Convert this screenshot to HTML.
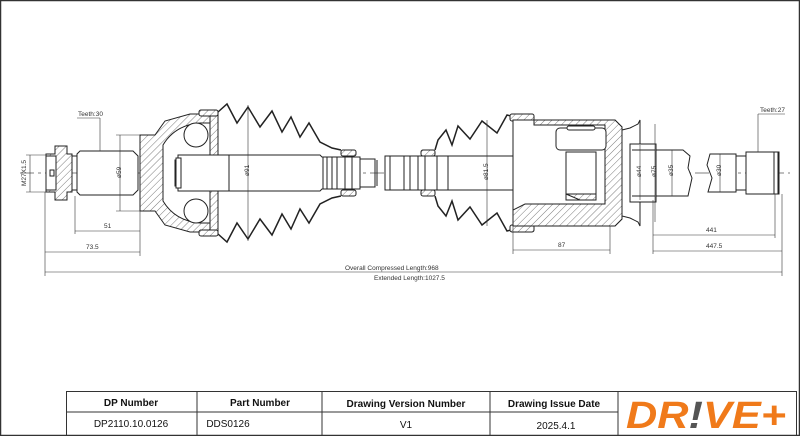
<!DOCTYPE html>
<html><head><meta charset="utf-8"><style>
html,body{margin:0;padding:0;background:#fff;}
svg{display:block;}
text{font-family:"Liberation Sans",sans-serif;}
</style></head><body>
<svg width="800" height="436" viewBox="0 0 800 436" xmlns="http://www.w3.org/2000/svg">
<defs>
<pattern id="h" width="5" height="5" patternUnits="userSpaceOnUse" patternTransform="rotate(45)">
<rect width="5" height="5" fill="#fff"/><line x1="0" y1="0" x2="0" y2="5" stroke="#444" stroke-width="0.7"/>
</pattern>
</defs>
<rect x="0.5" y="0.5" width="799" height="435" fill="none" stroke="#333" stroke-width="1.5"/>
<g stroke="#222" stroke-width="1" fill="none">
<line x1="20" y1="173" x2="790" y2="173" stroke="#555" stroke-width="0.7" stroke-dasharray="14,4,3,4"/>
<path d="M46 154 L55 154 L55 146 L67 146 L67 154 L72 154 L72 192 L67 192 L67 200 L55 200 L55 192 L46 192 Z" fill="url(#h)"/>
<rect x="46" y="156" width="10" height="34" fill="#fff"/>
<rect x="50" y="170" width="4" height="6"/>
<rect x="72" y="156" width="5" height="34"/>
<path d="M77 154 L80 151 L133 151 L138 156 L138 190 L133 195 L80 195 L77 192 Z" fill="#fff"/>
<path d="M140 135 L155 135 L165 121 L190 114 L218 114 L218 232 L190 232 L165 225 L155 211 L140 211 Z" fill="url(#h)"/>
<path d="M163 145 Q175 125 200 123 L210 123 L210 223 L200 223 Q175 221 163 201 Z" fill="#fff"/>
<path d="M175 160 L212 160 L212 186 L175 186 Z" fill="url(#h)"/>
<circle cx="196" cy="135" r="12" fill="#fff"/>
<circle cx="196" cy="211" r="12" fill="#fff"/>
<rect x="210" y="114" width="8" height="118" fill="url(#h)"/>
<rect x="199" y="110" width="19" height="6" rx="2" fill="url(#h)"/>
<rect x="199" y="230" width="19" height="6" rx="2" fill="url(#h)"/>
<path d="M178 155 L320 155 L322 157 L360 157 L360 189 L322 189 L320 191 L178 191 Z" fill="#fff"/>
<rect x="176" y="158" width="5" height="30" fill="#fff"/>
<line x1="229" y1="155" x2="229" y2="191"/>
<line x1="323" y1="157" x2="323" y2="189"/><line x1="327" y1="157" x2="327" y2="189"/>
<line x1="332" y1="157" x2="332" y2="189"/><line x1="337" y1="157" x2="337" y2="189"/>
<line x1="345" y1="157" x2="345" y2="189"/><line x1="352" y1="157" x2="352" y2="189"/>
<rect x="341" y="150" width="15" height="6" rx="2" fill="url(#h)"/>
<rect x="341" y="190" width="15" height="6" rx="2" fill="url(#h)"/>
<path d="M360 159 L375 159 L375 187 L360 187 Z"/>
<line x1="377" y1="160" x2="377" y2="186"/>
<path d="M385 156 L425 156 L425 190 L385 190 Z" fill="#fff"/>
<line x1="390" y1="156" x2="390" y2="190"/><line x1="404" y1="156" x2="404" y2="190"/>
<line x1="410" y1="156" x2="410" y2="190"/><line x1="418" y1="156" x2="418" y2="190"/>
<rect x="421" y="150" width="14" height="6" rx="2" fill="url(#h)"/>
<rect x="421" y="190" width="14" height="6" rx="2" fill="url(#h)"/>
<path d="M425 156 L560 156 L560 190 L425 190 Z" fill="#fff"/>
<line x1="437" y1="156" x2="437" y2="190"/><line x1="448" y1="156" x2="448" y2="190"/>
<path d="M218 112 L227 104 L237 123 L248 107 L260 127 L272 111 L282 132 L291 117 L300 137 L309 123 L320 142 L332 148 L341 150" stroke-width="1.5"/>
<path d="M218 234 L227 242 L237 223 L248 239 L260 219 L272 235 L282 214 L291 229 L300 209 L309 223 L320 204 L332 198 L341 196" stroke-width="1.5"/>
<path d="M435 150 L438 140 L446 130 L452 145 L458 126 L470 139 L482 121 L497 133 L507 115 L515 117" stroke-width="1.5"/>
<path d="M435 196 L438 206 L446 216 L452 201 L458 220 L470 207 L482 225 L497 213 L507 231 L515 229" stroke-width="1.5"/>
<rect x="510" y="114" width="24" height="7" rx="2" fill="url(#h)"/>
<rect x="510" y="225" width="24" height="7" rx="2" fill="url(#h)"/>
<path d="M513 120 L615 120 L622 127 L622 219 L615 226 L513 226 Z" fill="#fff"/>
<path d="M534 120 L615 120 L622 127 L622 219 L615 226 L513 226 L513 210 L525 204 L605 204 L605 125 L534 125 Z" fill="url(#h)"/>
<line x1="513" y1="120" x2="513" y2="226"/>
<rect x="556" y="128" width="50" height="22" rx="4" fill="#fff"/>
<rect x="567" y="126" width="28" height="4" rx="2" fill="#fff"/>
<rect x="566" y="152" width="30" height="48" fill="#fff"/>
<path d="M566 194 L596 194 L596 200 L580 200 Z" fill="url(#h)"/>
<path d="M622 130 L630 128 L638 124 L640 120 L640 226 L638 222 L630 218 L622 216 Z" fill="#fff"/>
<rect x="630" y="144" width="26" height="58" fill="#fff"/>
<line x1="632" y1="150" x2="655" y2="150"/><line x1="632" y1="196" x2="655" y2="196"/>
<path d="M656 150 L683 150 L690 156 L688 168 L692 178 L688 196 L656 196 Z" fill="#fff"/>
<path d="M710 154 L707 165 L712 178 L708 192 L736 192 L736 154 Z" fill="#fff"/>
<rect x="736" y="156" width="10" height="34"/>
<rect x="746" y="152" width="32" height="42" fill="#fff"/>
<rect x="774" y="152" width="5" height="42"/>
<g stroke-width="0.6" stroke="#333">
<line x1="120" y1="135" x2="120" y2="211"/><line x1="116" y1="135" x2="140" y2="135"/><line x1="116" y1="211" x2="140" y2="211"/>
<line x1="248" y1="105" x2="248" y2="241"/>
<line x1="487" y1="120" x2="487" y2="226"/>
<line x1="640" y1="145" x2="640" y2="200"/><line x1="655" y1="124" x2="655" y2="222"/>
<line x1="672" y1="150" x2="672" y2="196"/><line x1="720" y1="154" x2="720" y2="192"/>
<line x1="30" y1="155" x2="30" y2="192"/><line x1="26" y1="155" x2="46" y2="155"/><line x1="26" y1="192" x2="46" y2="192"/>
<line x1="77" y1="118" x2="100" y2="118"/><line x1="100" y1="118" x2="100" y2="151"/>
<line x1="758" y1="114" x2="785" y2="114"/><line x1="758" y1="114" x2="758" y2="152"/>
<line x1="45" y1="192" x2="45" y2="276"/><line x1="75" y1="196" x2="75" y2="234"/><line x1="140" y1="211" x2="140" y2="256"/>
<line x1="75" y1="231" x2="140" y2="231"/><line x1="45" y1="252" x2="140" y2="252"/>
<line x1="45" y1="272" x2="782" y2="272"/><line x1="782" y1="194" x2="782" y2="276"/>
<line x1="513" y1="226" x2="513" y2="254"/><line x1="610" y1="226" x2="610" y2="254"/><line x1="513" y1="250" x2="610" y2="250"/>
<line x1="653" y1="200" x2="653" y2="254"/><line x1="775" y1="194" x2="775" y2="238"/>
<line x1="653" y1="235" x2="775" y2="235"/><line x1="653" y1="251" x2="782" y2="251"/>
</g>
</g>
<g font-size="6.5" fill="#333">
<text x="78" y="116">Teeth:30</text>
<text x="760" y="112">Teeth:27</text>
<text x="104" y="228">51</text>
<text x="86" y="249">73.5</text>
<text x="558" y="247">87</text>
<text x="706" y="232">441</text>
<text x="706" y="248">447.5</text>
<text x="345" y="270">Overall  Compressed  Length:968</text>
<text x="374" y="280">Extended  Length:1027.5</text>
<text transform="translate(26,186) rotate(-90)">M27X1.5</text>
<text transform="translate(121,178) rotate(-90)">ø59</text>
<text transform="translate(249,176) rotate(-90)">ø91</text>
<text transform="translate(488,180) rotate(-90)">ø81.5</text>
<text transform="translate(641,177) rotate(-90)">ø44</text>
<text transform="translate(656,177) rotate(-90)">ø75</text>
<text transform="translate(673,176) rotate(-90)">ø35</text>
<text transform="translate(721,176) rotate(-90)">ø30</text>
</g>
<g stroke="#333" stroke-width="1" fill="none">
<rect x="66.5" y="391.5" width="730" height="44"/>
<line x1="66" y1="412" x2="618" y2="412"/>
<line x1="197" y1="391" x2="197" y2="436"/><line x1="322" y1="391" x2="322" y2="436"/>
<line x1="490" y1="391" x2="490" y2="436"/><line x1="618" y1="391" x2="618" y2="436"/>
</g>
<g font-size="10" text-anchor="middle" fill="#111">
<text x="131" y="406" font-weight="bold">DP Number</text>
<text x="260" y="406" font-weight="bold">Part Number</text>
<text x="406" y="407" font-weight="bold">Drawing Version Number</text>
<text x="554" y="407" font-weight="bold">Drawing Issue Date</text>
<text x="131" y="427">DP2110.10.0126</text>
<text x="228" y="427">DDS0126</text>
<text x="406" y="428">V1</text>
<text x="556" y="429">2025.4.1</text>
</g>
<text x="626" y="428" font-size="38" font-weight="bold" font-style="italic" fill="#f07a1a" textLength="160" lengthAdjust="spacingAndGlyphs">DR<tspan fill="#555">!</tspan>VE+</text>
</svg>
</body></html>
